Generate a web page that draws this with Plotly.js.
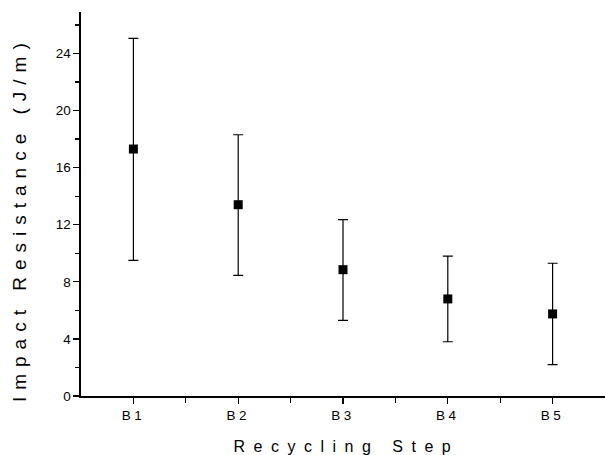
<!DOCTYPE html>
<html><head><meta charset="utf-8">
<script src="https://cdn.plot.ly/plotly-3.0.1.min.js"></script>
<style>
body{margin:0;padding:0;background:#fff;}
.annotation-text{letter-spacing:7px;}
.xtick text{letter-spacing:3.5px;}
</style>
</head><body>
<div id="chart" style="width:605px;height:455px;"></div>
<script>
const categories = ["B1","B2","B3","B4","B5"];
const impact = [17.3, 13.4, 8.85, 6.8, 5.75];
const errorPlus = [7.75, 4.9, 3.5, 3.0, 3.55];
const errorMinus = [7.8, 4.95, 3.55, 3.0, 3.55];
const yTicks = [0, 4, 8, 12, 16, 20, 24];
const xTitle = 'Recycling Step';
const yTitle = 'Impact Resistance (J/m)';

const xPos = categories.map((c, i) => i + 1);

const trace = {
  x: xPos, y: impact, type: 'scatter', mode: 'markers',
  marker: {symbol: 'square', size: 9, color: '#000'},
  error_y: {type: 'data', symmetric: false, array: errorPlus, arrayminus: errorMinus,
            color: '#000', thickness: 1.2, width: 5},
  showlegend: false, hoverinfo: 'skip'
};

const layout = {
  width: 605, height: 455,
  margin: {l: 81, r: 0, t: 12, b: 59},
  paper_bgcolor: '#fff', plot_bgcolor: '#fff',
  font: {family: 'Liberation Sans, Arial, sans-serif', color: '#000', size: 13},
  xaxis: {
    range: [0.5, 5.5], tickvals: xPos, ticktext: categories,
    showgrid: false, zeroline: false, showline: true, linecolor: '#000', linewidth: 1.6,
    ticks: 'outside', ticklen: 6, tickwidth: 1.3, tickcolor: '#000',
    minor: {tickvals: [1.5, 2.5, 3.5, 4.5], ticks: 'outside', ticklen: 5, tickwidth: 1.3, tickcolor: '#000'},
    tickfont: {size: 13.5}
  },
  yaxis: {
    range: [0, 26.9], tickvals: yTicks,
    showgrid: false, zeroline: false, showline: true, linecolor: '#000', linewidth: 1.6,
    ticks: 'outside', ticklen: 6, tickwidth: 1.3, tickcolor: '#000',
    minor: {tickvals: [2, 6, 10, 14, 18, 22, 26], ticks: 'outside', ticklen: 4, tickwidth: 1.3, tickcolor: '#000'},
    tickfont: {size: 13.5}
  },
  annotations: [{
    text: yTitle, textangle: -90, showarrow: false,
    xref: 'paper', yref: 'paper', x: -0.117, y: 0.46,
    xanchor: 'center', yanchor: 'middle',
    font: {size: 19, color: '#000'}
  }, {
    text: xTitle, showarrow: false,
    xref: 'paper', yref: 'paper', x: 0.5, y: -0.124,
    xanchor: 'center', yanchor: 'middle', xshift: 3, yshift: -3,
    font: {size: 16, color: '#000'}
  }]
};

Plotly.newPlot('chart', [trace], layout, {displayModeBar: false, staticPlot: true}).then(() => {
  const anns = document.querySelectorAll('.annotation-text');
  if (anns.length > 1) anns[1].style.letterSpacing = '8.5px';
  Plotly.relayout('chart', {});
});
</script>
</body></html>
